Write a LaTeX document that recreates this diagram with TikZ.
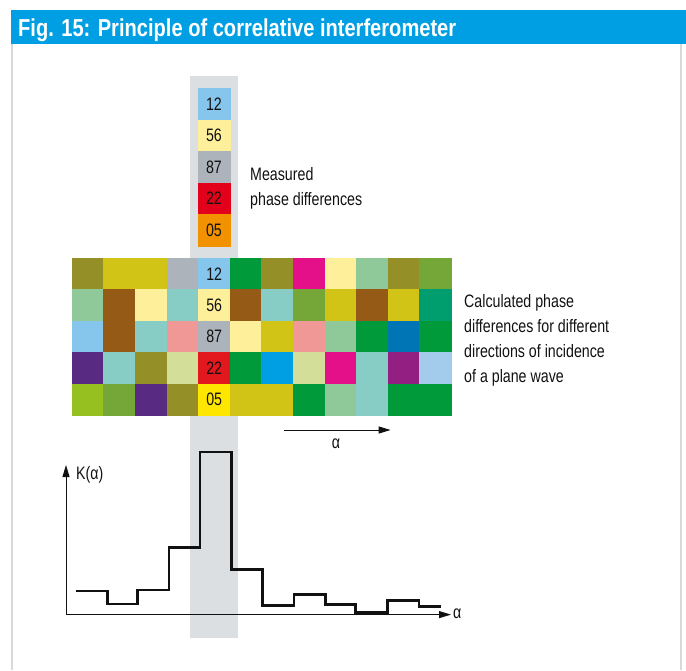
\documentclass[tikz,border=0pt]{standalone}
\usepackage{fontspec}
\setmainfont{Liberation Sans}[FakeStretch=0.79]
\newfontfamily\headfont{Liberation Sans}[FakeStretch=0.82]
\usetikzlibrary{arrows.meta}
\definecolor{titleBlue}{HTML}{009FE3}
\definecolor{frameGray}{HTML}{D6DADD}
\definecolor{columnGray}{HTML}{DCDFE2}
\definecolor{ink}{HTML}{111111}
\definecolor{moss}{HTML}{958F27}
\definecolor{mustard}{HTML}{D2C416}
\definecolor{slate}{HTML}{ADB3BA}
\definecolor{sky}{HTML}{86C5EC}
\definecolor{grass}{HTML}{009A3A}
\definecolor{berry}{HTML}{E3108A}
\definecolor{cream}{HTML}{FEF09B}
\definecolor{sage}{HTML}{8FC999}
\definecolor{leaf}{HTML}{74A737}
\definecolor{rust}{HTML}{955A16}
\definecolor{aqua}{HTML}{88CCC6}
\definecolor{jade}{HTML}{009E6E}
\definecolor{rose}{HTML}{EF9896}
\definecolor{ocean}{HTML}{0075B5}
\definecolor{plum}{HTML}{582A82}
\definecolor{pistachio}{HTML}{D3DF99}
\definecolor{scarlet}{HTML}{E3181F}
\definecolor{azure}{HTML}{009FE3}
\definecolor{orchid}{HTML}{921F81}
\definecolor{ice}{HTML}{A3CBEC}
\definecolor{lime}{HTML}{95C020}
\definecolor{lemon}{HTML}{FFE600}
\definecolor{crimson}{HTML}{E2001A}
\definecolor{amber}{HTML}{F39200}
\tikzset{
  >={Triangle[length=12pt, width=7pt]},
  every node/.style={text=ink},
  cell/.style={fill=#1, draw=#1, line width=0.3pt, minimum width=31.6pt, minimum height=31.5pt,
    inner sep=0pt, font=\fontsize{18}{20}\selectfont},
  digits/.style={inner sep=0pt, font=\fontsize{18}{20}\selectfont},
  lbl/.style={font=\fontsize{18}{25}\selectfont, align=left, inner sep=0pt},
  axis/.style={->, line width=1pt, draw=ink},
  curve/.style={line width=2.6pt, draw=ink},
}

\begin{document}
\begin{tikzpicture}[x=1pt, y=-1pt]
  \useasboundingbox (0,0) rectangle (686,670);

  % ---------------------------------------------------------------- title and frame
  \fill[titleBlue] (11,10) rectangle (686,44);
  \node[anchor=base west, inner sep=0pt, text=white, font=\headfont\bfseries\fontsize{24.5}{28}\selectfont]
    (title) at (18,36.7) {Fig. 15: Principle of correlative interferometer};
  \draw[frameGray, line width=1.5pt] (12,44) -- (12,670);
  \draw[frameGray, line width=1.5pt] (681,44) -- (681,670);

  % ---------------------------------------------------------------- measured column
  \fill[columnGray] (190,76) rectangle (238,638);
  \foreach \v/\c [count=\r from 0] in {12/sky, 56/cream, 87/slate, 22/crimson, 05/amber} {
    \node[cell=\c] (meas-\r) at (214, {88+31.6*\r+15.8}) {\v};
  }
  \node[lbl, anchor=north west] (measured) at (250,167) {Measured\\ phase differences};

  % ---------------------------------------------------------------- calculated grid
  \foreach \r/\row in {
      0/{moss,mustard,mustard,slate,sky,grass,moss,berry,cream,sage,moss,leaf},
      1/{sage,rust,cream,aqua,cream,rust,aqua,leaf,mustard,rust,mustard,jade},
      2/{sky,rust,aqua,rose,slate,cream,mustard,rose,sage,grass,ocean,grass},
      3/{plum,aqua,moss,pistachio,scarlet,grass,azure,pistachio,berry,aqua,orchid,ice},
      4/{lime,leaf,plum,moss,lemon,mustard,mustard,grass,sage,aqua,grass,grass}} {
    \foreach \c [count=\i from 0] in \row {
      \node[cell=\c] (cell-\r-\i) at ({72+31.6*\i+15.8}, {258+31.5*\r+15.75}) {};
    }
  }
  \foreach \v [count=\r from 0] in {12,56,87,22,05} {
    \node[digits] (calc-\r) at (cell-\r-4) {\v};
  }
  \node[lbl, anchor=north west] (calculated) at (464,294)
    {Calculated phase\\ differences for different\\ directions of incidence\\ of a plane wave};

  % ---------------------------------------------------------------- direction arrow
  \coordinate (dirStart) at (284,430);
  \coordinate (dirEnd) at (390.6,430);
  \draw[axis] (dirStart) -- (dirEnd);
  \node[lbl] (dirAlpha) at (336,443.5) {α};

  % ---------------------------------------------------------------- correlation plot
  \coordinate (origin) at (66,614.6);
  \coordinate (yTop) at (66,465);
  \coordinate (xEnd) at (451,614.6);
  \draw[axis] (origin) -- (yTop);
  \draw[axis] (origin) -- (xEnd);
  \node[lbl, anchor=west] (kLabel) at (76,475) {K(α)};
  \node[lbl, anchor=west] (xAlpha) at (453,614) {α};

  \draw[curve] (76,591) -| (107.7,604) -| (137.2,590) -| (169.1,547.5) -| (200,452)
    -| (231.2,569.3) -| (262.4,605.2) -| (294,594.2) -| (325.2,604.6) -| (355.4,612.6)
    -| (387.2,600.2) -| (419.1,606.6) -- (441,606.6);

\end{tikzpicture}
\end{document}
